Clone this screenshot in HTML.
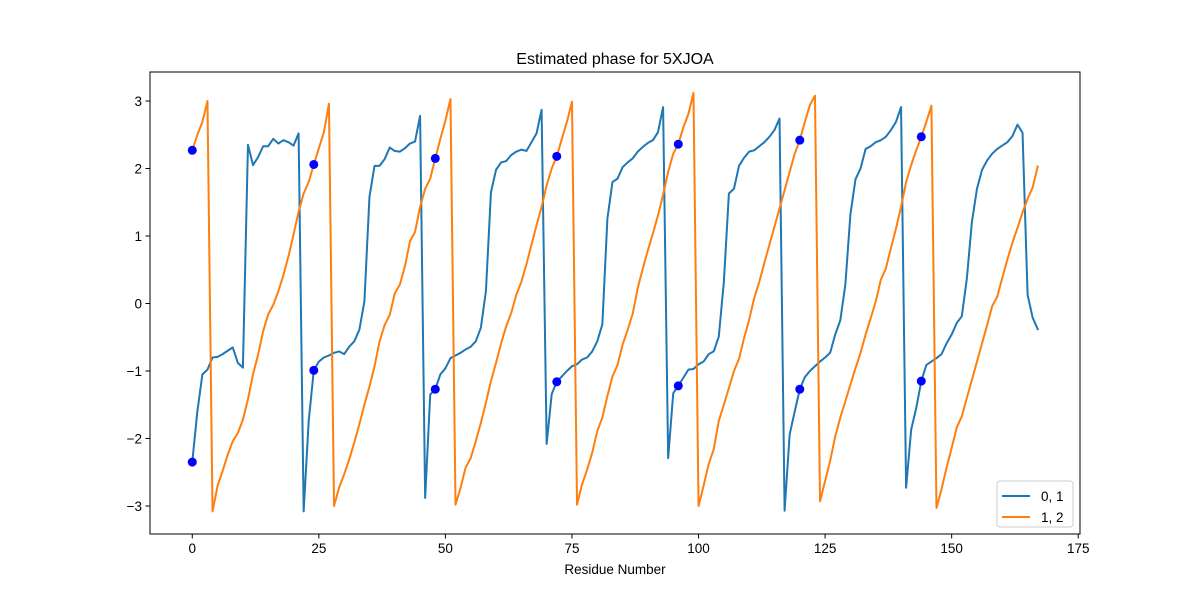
<!DOCTYPE html>
<html><head><meta charset="utf-8"><style>
body{margin:0;background:#fff;}
svg text{font-family:"Liberation Sans","DejaVu Sans",sans-serif;}
</style></head><body>
<svg id="chart" width="1200" height="600" xmlns="http://www.w3.org/2000/svg">
<rect x="0" y="0" width="1200" height="600" fill="#fff"/>
<text x="615" y="64" text-anchor="middle" font-size="16" fill="#000">Estimated phase for 5XJOA</text>
<text x="615" y="574" text-anchor="middle" font-size="13.5" fill="#000">Residue Number</text>
<g id="plot"></g>
</svg>
<script>
const series01 = [-2.35,-1.6,-1.05,-0.98,-0.8,-0.79,-0.75,-0.7,-0.65,-0.88,-0.95,2.35,2.05,2.17,2.33,2.33,2.44,2.37,2.42,2.39,2.34,2.52,-3.08,-1.74,-0.99,-0.86,-0.8,-0.77,-0.73,-0.71,-0.75,-0.64,-0.56,-0.39,0.03,1.58,2.04,2.04,2.14,2.31,2.26,2.25,2.3,2.37,2.4,2.78,-2.88,-1.35,-1.27,-1.05,-0.96,-0.81,-0.77,-0.73,-0.68,-0.64,-0.56,-0.36,0.18,1.65,1.98,2.09,2.11,2.2,2.25,2.28,2.26,2.39,2.52,2.87,-2.08,-1.34,-1.16,-1.08,-1.0,-0.93,-0.9,-0.83,-0.8,-0.71,-0.56,-0.31,1.26,1.8,1.85,2.02,2.09,2.15,2.25,2.32,2.38,2.42,2.54,2.91,-2.29,-1.33,-1.22,-1.1,-0.98,-0.97,-0.9,-0.86,-0.75,-0.71,-0.49,0.32,1.63,1.7,2.04,2.16,2.25,2.27,2.33,2.39,2.47,2.57,2.74,-3.07,-1.94,-1.6,-1.27,-1.09,-1.0,-0.93,-0.86,-0.8,-0.73,-0.46,-0.25,0.28,1.32,1.84,2.0,2.29,2.33,2.39,2.42,2.47,2.57,2.69,2.91,-2.73,-1.87,-1.55,-1.15,-0.91,-0.86,-0.81,-0.75,-0.59,-0.46,-0.29,-0.19,0.37,1.21,1.7,1.98,2.12,2.22,2.29,2.34,2.39,2.48,2.65,2.53,0.13,-0.21,-0.38];
const series12 = [2.27,2.5,2.69,3.0,-3.08,-2.7,-2.48,-2.24,-2.04,-1.92,-1.72,-1.42,-1.05,-0.76,-0.41,-0.16,-0.02,0.18,0.42,0.7,1.02,1.36,1.63,1.8,2.06,2.3,2.54,2.96,-3.0,-2.73,-2.53,-2.31,-2.06,-1.79,-1.5,-1.23,-0.93,-0.56,-0.32,-0.17,0.15,0.28,0.55,0.92,1.06,1.43,1.7,1.85,2.15,2.44,2.71,3.03,-2.98,-2.73,-2.43,-2.29,-2.04,-1.77,-1.47,-1.15,-0.88,-0.59,-0.34,-0.14,0.13,0.32,0.58,0.87,1.16,1.43,1.75,2.0,2.18,2.44,2.69,2.99,-2.98,-2.68,-2.46,-2.21,-1.89,-1.69,-1.37,-1.08,-0.91,-0.61,-0.39,-0.15,0.23,0.52,0.79,1.04,1.31,1.61,1.95,2.22,2.36,2.61,2.81,3.12,-3.0,-2.7,-2.38,-2.16,-1.74,-1.5,-1.25,-1.0,-0.82,-0.51,-0.24,0.08,0.32,0.6,0.87,1.14,1.41,1.68,1.95,2.22,2.42,2.69,2.94,3.08,-2.93,-2.63,-2.33,-1.97,-1.69,-1.45,-1.2,-0.96,-0.73,-0.46,-0.22,0.03,0.35,0.52,0.82,1.11,1.43,1.8,2.05,2.27,2.47,2.69,2.93,-3.03,-2.75,-2.43,-2.14,-1.84,-1.67,-1.4,-1.13,-0.86,-0.59,-0.32,-0.04,0.1,0.38,0.65,0.9,1.12,1.35,1.55,1.72,2.03];
const markerIdx = [0,24,48,72,96,120,144];
const xTicks = [0,25,50,75,100,125,150,175];
const yTicks = [-3,-2,-1,0,1,2,3];

const L=150,R=1080,T=72,B=534;
const xmin=-8.35,xmax=175.35,ymin=-3.415,ymax=3.43;
function X(v){return L+(v-xmin)/(xmax-xmin)*(R-L);}
function Y(v){return B-(v-ymin)/(ymax-ymin)*(B-T);}
const NS='http://www.w3.org/2000/svg';
const g=document.getElementById('plot');
function mk(tag,attrs,parent){const e=document.createElementNS(NS,tag);for(const k in attrs)e.setAttribute(k,attrs[k]);(parent||g).appendChild(e);return e;}

function line(data,color,name){
  const d=data.map((v,i)=>(i?'L':'M')+X(i).toFixed(2)+','+Y(v).toFixed(2)).join('');
  const p=mk('path',{d:d,fill:'none',stroke:color,'stroke-width':2,'stroke-linejoin':'round','stroke-linecap':'square'});
  
  
}
line(series01,'#1f77b4','series-0-1-line');
line(series12,'#ff7f0e','series-1-2-line');
markerIdx.forEach(i=>{
  [series12[i],series01[i]].forEach(v=>{
    const c=mk('circle',{cx:X(i),cy:Y(v),r:4.5,fill:'#0000ff'});
    
    
  });
});
const frame=mk('rect',{x:L,y:T,width:R-L,height:B-T,fill:'none',stroke:'#000','stroke-width':1});


xTicks.forEach(t=>{
  const x=X(t);
  const tk=mk('line',{x1:x,x2:x,y1:B,y2:B+4.5,stroke:'#000','stroke-width':1});
  
  
  const tx=mk('text',{x:x,y:B+19,'text-anchor':'middle','font-size':13.5,fill:'#000'});
  tx.textContent=t;
  
  
});
yTicks.forEach(t=>{
  const y=Y(t);
  const tk=mk('line',{x1:L-4.5,x2:L,y1:y,y2:y,stroke:'#000','stroke-width':1});
  
  
  const tx=mk('text',{x:L-8,y:y+5,'text-anchor':'end','font-size':13.5,fill:'#000'});
  tx.textContent=(t<0?'\u2212'+(-t):t);
  
  
});
const lg=mk('g',{});


mk('rect',{x:997,y:481,width:76,height:46,rx:3,fill:'#fff',stroke:'#ccc','stroke-width':1},lg);
[['0, 1','#1f77b4',496],['1, 2','#ff7f0e',517]].forEach(([lab,col,y])=>{
  const l=mk('line',{x1:1002,x2:1030,y1:y,y2:y,stroke:col,'stroke-width':2},lg);
  
  
  const t=mk('text',{x:1041,y:y+5,'font-size':13.5,fill:'#000'},lg);
  t.textContent=lab;
  
  
});
</script>
</body></html>
